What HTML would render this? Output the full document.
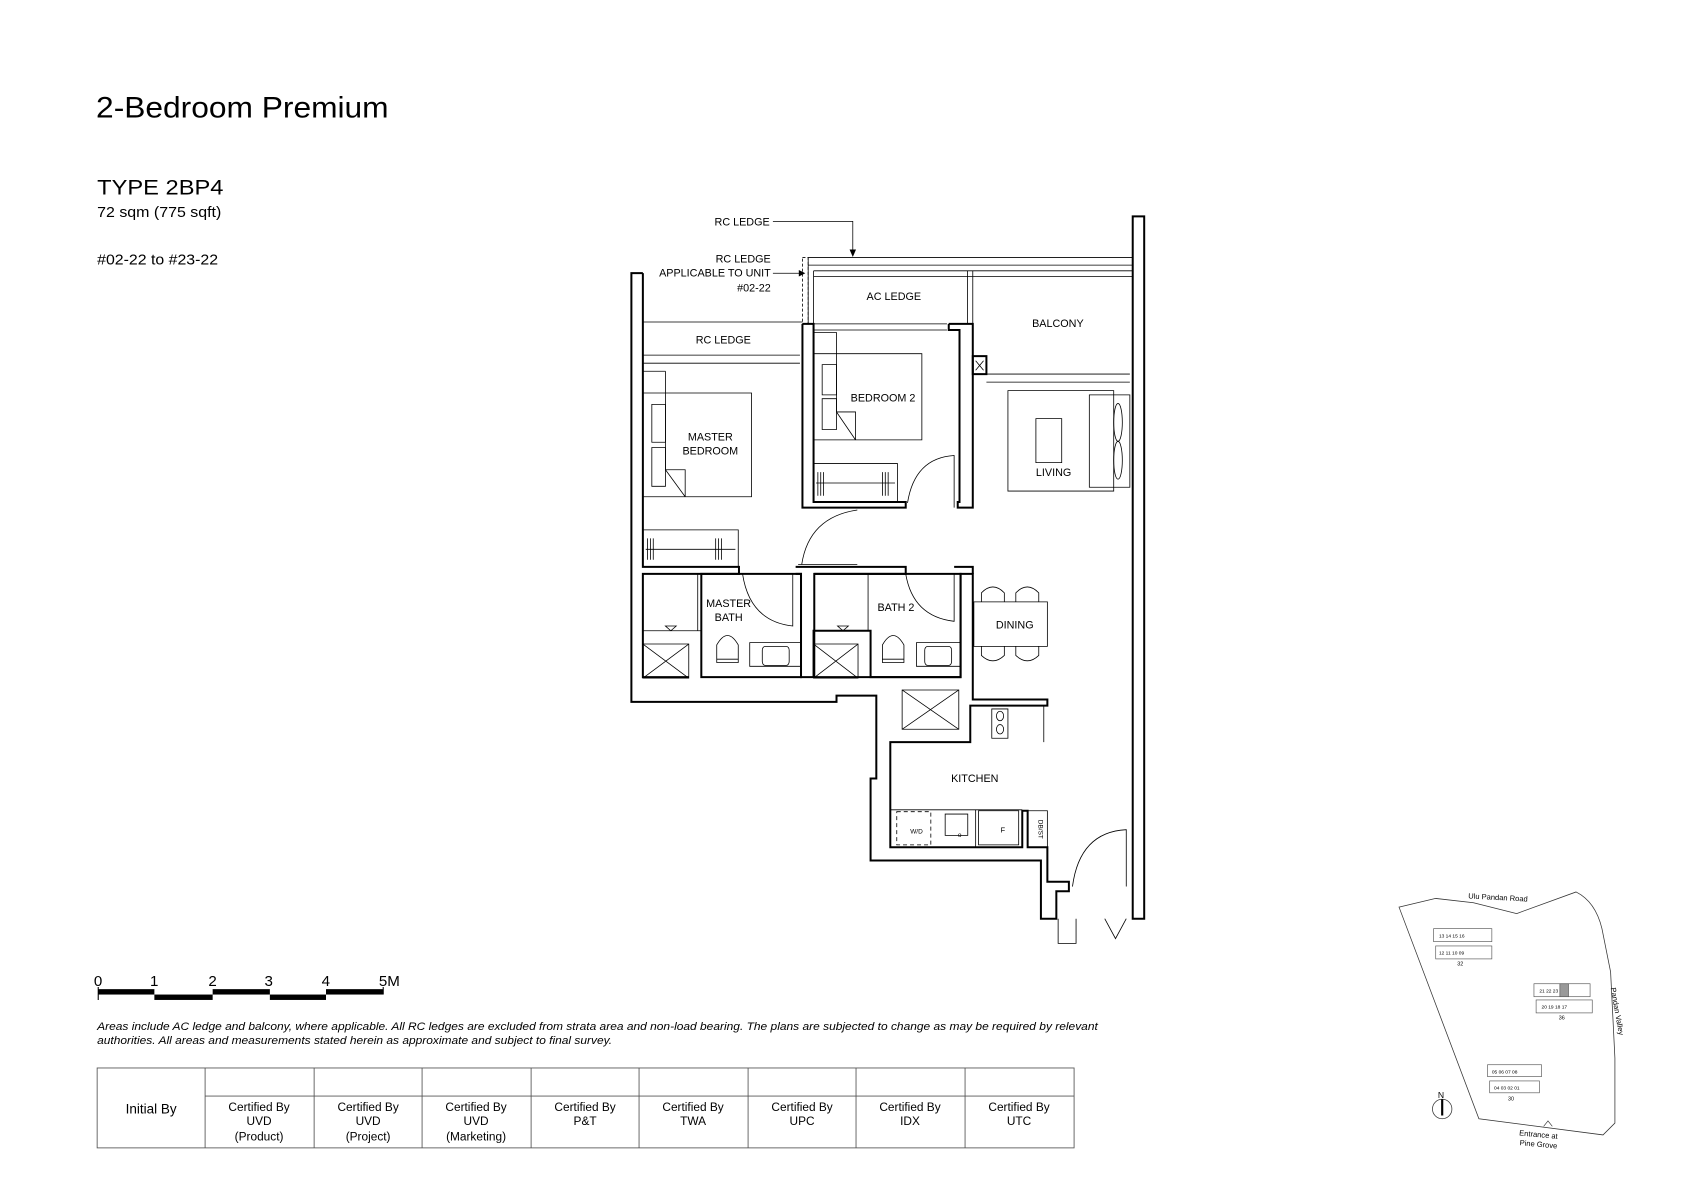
<!DOCTYPE html>
<html><head><meta charset="utf-8"><style>
html,body{margin:0;padding:0;background:#fff;}
svg{display:block;}
text{font-family:"Liberation Sans",Arial,sans-serif;fill:#000;}
.w{fill:none;stroke:#000;stroke-width:2;}
.t{fill:none;stroke:#000;stroke-width:0.8;}
</style></head><body>
<svg width="1684" height="1190" viewBox="0 0 1560 1102" preserveAspectRatio="none" xmlns="http://www.w3.org/2000/svg">
<text x="89" y="109" font-size="27" textLength="271" lengthAdjust="spacingAndGlyphs">2-Bedroom Premium</text>
<text x="90" y="180" font-size="20" textLength="117" lengthAdjust="spacingAndGlyphs">TYPE 2BP4</text>
<text x="90" y="201" font-size="14" textLength="115" lengthAdjust="spacingAndGlyphs">72 sqm (775 sqft)</text>
<text x="90" y="245" font-size="14" textLength="112" lengthAdjust="spacingAndGlyphs">#02-22 to #23-22</text>

<g transform="translate(555,185) scale(0.3322,0.4386)">
<polyline class="w" vector-effect="non-scaling-stroke" points="122,155 90,155 90,1060 662,1060 662,1047 773,1047 773,1222 757,1222 757,1395 1232,1395 1232,1518 1275,1518 1275,1460 1310,1460 1310,1440 1250,1440 1250,1367 1195,1367 1195,1290 1180,1290 1180,1367 812,1367 812,1145 1035,1145 1035,1068 1250,1068 1250,1055 1042,1055 1042,790 1008,790 1008,1008 757,1008 757,910 598,910 598,1008 600,1008 563,1008 563,790 548,790"/>
<polyline class="w" vector-effect="non-scaling-stroke" points="122,155 122,775 390,775 390,790 122,790 122,1008 250,1008"/>
<rect class="w" vector-effect="non-scaling-stroke" x="285" y="790" width="278" height="218"/>
<rect class="w" vector-effect="non-scaling-stroke" x="600" y="790" width="408" height="218"/>
<polyline class="w" vector-effect="non-scaling-stroke" points="548,775 855,775 855,790 600,790"/>
<polyline class="w" vector-effect="non-scaling-stroke" points="990,775 1042,775 1042,790"/>
<rect class="w" vector-effect="non-scaling-stroke" x="1488" y="35" width="32" height="1483"/>
<polyline class="w" vector-effect="non-scaling-stroke" points="567,262 598,262 598,638 855,638 855,650 567,650 567,262"/>
<polyline class="w" vector-effect="non-scaling-stroke" points="975,262 1042,262 1042,650 1000,650 1000,638 1005,638 1005,275 975,275 975,262"/>
<rect class="w" vector-effect="non-scaling-stroke" x="1042" y="330" width="38" height="38"/>
<path class="t" vector-effect="non-scaling-stroke" d="M1050,340 L1072,360 M1072,340 L1050,360"/>
<path class="t" vector-effect="non-scaling-stroke" d="M583,122 L1488,122 M583,138 L1488,138 M583,122 L583,262 M598,150 L1488,150 M598,162 L1488,162 M598,150 L598,262 M1027,150 L1027,262 M1042,150 L1042,262 M598,262 L970,262 M598,275 L970,275 M122,258 L567,258 M122,328 L560,328 M122,345 L560,345 M1080,368 L1480,368 M1080,385 L1480,385"/>
<rect x="567" y="122" width="16" height="140" fill="none" stroke="#000" stroke-width="0.8" stroke-dasharray="3,2" vector-effect="non-scaling-stroke"/>
<path class="t" vector-effect="non-scaling-stroke" d="M400,790 Q420,890 540,900 L540,790 M855,790 Q875,880 990,890 L990,790 M565,770 Q585,670 720,655 M860,640 Q880,545 990,540 L990,650 M1320,1450 Q1340,1335 1470,1330 L1470,1450 M1280,1518 L1280,1570 L1330,1570 L1330,1518 M1410,1518 L1440,1560 L1470,1518 M555,770 L720,770"/>
<g class="t">
<rect vector-effect="non-scaling-stroke" x="122" y="408" width="303" height="219"/>
<rect vector-effect="non-scaling-stroke" x="147" y="432" width="38" height="80"/>
<rect vector-effect="non-scaling-stroke" x="147" y="523" width="38" height="82"/>
<path vector-effect="non-scaling-stroke" d="M185,362 L185,570 L240,627 M185,570 L240,570 L240,627 M122,362 L185,362"/>
<rect vector-effect="non-scaling-stroke" x="122" y="697" width="266" height="78"/>
<path vector-effect="non-scaling-stroke" d="M130,738 L380,738 M135,715 V760 M143,715 V760 M151,715 V760 M325,715 V760 M333,715 V760 M341,715 V760"/>
<rect vector-effect="non-scaling-stroke" x="598" y="325" width="302" height="182"/>
<rect vector-effect="non-scaling-stroke" x="622" y="348" width="40" height="64"/>
<rect vector-effect="non-scaling-stroke" x="622" y="420" width="40" height="65"/>
<path vector-effect="non-scaling-stroke" d="M662,280 L662,448 L715,507 M662,448 L715,448 L715,507 M598,280 L662,280"/>
<rect vector-effect="non-scaling-stroke" x="598" y="557" width="234" height="81"/>
<path vector-effect="non-scaling-stroke" d="M605,598 L825,598 M610,575 V625 M618,575 V625 M626,575 V625 M790,575 V625 M798,575 V625 M806,575 V625"/>
<rect vector-effect="non-scaling-stroke" x="1140" y="403" width="295" height="212"/>
<rect vector-effect="non-scaling-stroke" x="1218" y="462" width="72" height="93"/>
<rect vector-effect="non-scaling-stroke" x="1367" y="412" width="113" height="195"/>
<ellipse vector-effect="non-scaling-stroke" cx="1447" cy="470" rx="12" ry="40"/>
<ellipse vector-effect="non-scaling-stroke" cx="1447" cy="550" rx="12" ry="40"/>
<rect vector-effect="non-scaling-stroke" x="1045" y="849" width="205" height="94"/>
<path vector-effect="non-scaling-stroke" d="M1066,849 V830 Q1098,805 1130,830 V849 M1162,849 V830 Q1194,805 1226,830 V849 M1066,943 V962 Q1098,985 1130,962 V943 M1162,943 V962 Q1194,985 1226,962 V943"/>
<rect vector-effect="non-scaling-stroke" x="122" y="938" width="128" height="72"/>
<path vector-effect="non-scaling-stroke" d="M122,938 L250,1010 M250,938 L122,1010"/>
<rect vector-effect="non-scaling-stroke" x="598" y="938" width="124" height="72"/>
<path vector-effect="non-scaling-stroke" d="M598,938 L722,1010 M722,938 L598,1010"/>
<rect vector-effect="non-scaling-stroke" x="845" y="1035" width="158" height="83"/>
<path vector-effect="non-scaling-stroke" d="M845,1035 L1003,1118 M1003,1035 L845,1118"/>
<path vector-effect="non-scaling-stroke" d="M275,790 V910 M122,910 H285 M750,790 V910 M185,900 L200,910 L215,900 Z M665,900 L680,910 L695,900 Z"/>
<path vector-effect="non-scaling-stroke" d="M328,977 V940 Q358,900 388,940 V977 Z M328,970 H388 M790,977 V940 Q820,900 850,940 V977 Z M790,970 H850"/>
<rect vector-effect="non-scaling-stroke" x="420" y="935" width="143" height="50"/>
<rect vector-effect="non-scaling-stroke" x="455" y="943" width="75" height="40" rx="8"/>
<rect vector-effect="non-scaling-stroke" x="885" y="935" width="123" height="50"/>
<rect vector-effect="non-scaling-stroke" x="908" y="943" width="75" height="40" rx="8"/>
<rect vector-effect="non-scaling-stroke" x="1095" y="1075" width="45" height="62"/>
<circle vector-effect="non-scaling-stroke" cx="1118" cy="1090" r="10"/>
<circle vector-effect="non-scaling-stroke" cx="1118" cy="1118" r="10"/>
<path vector-effect="non-scaling-stroke" d="M1240,1068 V1145 M812,1288 H1180 M1050,1288 V1367"/>
<rect vector-effect="non-scaling-stroke" x="830" y="1292" width="95" height="70" stroke-dasharray="4,3"/>
<rect vector-effect="non-scaling-stroke" x="965" y="1297" width="63" height="45"/>
<rect vector-effect="non-scaling-stroke" x="1058" y="1290" width="112" height="72"/>
<rect vector-effect="non-scaling-stroke" x="1195" y="1290" width="55" height="77"/>
</g>
</g>

<g font-size="10">
<text x="713" y="209" text-anchor="end">RC LEDGE</text>
<text x="714" y="243" text-anchor="end">RC LEDGE</text>
<text x="714" y="256" text-anchor="end">APPLICABLE TO UNIT</text>
<text x="714" y="270" text-anchor="end">#02-22</text>
<text x="828" y="278" text-anchor="middle">AC LEDGE</text>
<text x="980" y="303" text-anchor="middle">BALCONY</text>
<text x="670" y="318" text-anchor="middle">RC LEDGE</text>
<text x="818" y="372" text-anchor="middle">BEDROOM 2</text>
<text x="658" y="408" text-anchor="middle">MASTER</text>
<text x="658" y="421" text-anchor="middle">BEDROOM</text>
<text x="976" y="441" text-anchor="middle">LIVING</text>
<text x="675" y="562" text-anchor="middle">MASTER</text>
<text x="675" y="575" text-anchor="middle">BATH</text>
<text x="830" y="566" text-anchor="middle">BATH 2</text>
<text x="940" y="582" text-anchor="middle">DINING</text>
<text x="903" y="724" text-anchor="middle">KITCHEN</text>
</g>
<text x="849" y="772" font-size="6" text-anchor="middle">W/D</text>
<text x="929" y="771" font-size="7" text-anchor="middle">F</text>
<text x="889" y="775" font-size="6" text-anchor="middle">o</text>
<text transform="translate(962,768) rotate(90)" font-size="6" text-anchor="middle">DB/ST</text>
<path d="M716,205 H790 V235" fill="none" stroke="#000" stroke-width="0.7"/>
<path d="M787,231 L790,238 L793,231 Z" fill="#000"/>
<path d="M716,253 H744" fill="none" stroke="#000" stroke-width="0.7"/>
<path d="M740,250 L746,253 L740,256 Z" fill="#000"/>

<g font-size="14">
<text x="87" y="913">0</text><text x="139" y="913">1</text><text x="193" y="913">2</text><text x="245" y="913">3</text><text x="298" y="913">4</text><text x="351" y="913">5M</text>
</g>
<rect x="91" y="916" width="52" height="5" fill="#000"/>
<rect x="143" y="921" width="54" height="5" fill="#000"/>
<rect x="197" y="916" width="53" height="5" fill="#000"/>
<rect x="250" y="921" width="52" height="5" fill="#000"/>
<rect x="302" y="916" width="53" height="5" fill="#000"/>
<path d="M91,914 V926 M355,914 V921" stroke="#000" stroke-width="1"/>

<g font-size="10.3" font-style="italic">
<text x="90" y="954" textLength="927" lengthAdjust="spacingAndGlyphs">Areas include AC ledge and balcony, where applicable. All RC ledges are excluded from strata area and non-load bearing. The plans are subjected to change as may be required by relevant</text>
<text x="90" y="967" textLength="477" lengthAdjust="spacingAndGlyphs">authorities. All areas and measurements stated herein as approximate and subject to final survey.</text>
</g>

<g fill="none" stroke="#555" stroke-width="0.8">
<rect x="90" y="989" width="905" height="74"/>
<path d="M190,989 V1063 M291,989 V1063 M391,989 V1063 M492,989 V1063 M592,989 V1063 M693,989 V1063 M793,989 V1063 M894,989 V1063 M190,1015 H995"/>
</g>
<g font-size="11" text-anchor="middle">
<text x="140" y="1031" font-size="12.5">Initial By</text>
<text x="240" y="1029">Certified By</text><text x="240" y="1042">UVD</text><text x="240" y="1056">(Product)</text>
<text x="341" y="1029">Certified By</text><text x="341" y="1042">UVD</text><text x="341" y="1056">(Project)</text>
<text x="441" y="1029">Certified By</text><text x="441" y="1042">UVD</text><text x="441" y="1056">(Marketing)</text>
<text x="542" y="1029">Certified By</text><text x="542" y="1042">P&amp;T</text>
<text x="642" y="1029">Certified By</text><text x="642" y="1042">TWA</text>
<text x="743" y="1029">Certified By</text><text x="743" y="1042">UPC</text>
<text x="843" y="1029">Certified By</text><text x="843" y="1042">IDX</text>
<text x="944" y="1029">Certified By</text><text x="944" y="1042">UTC</text>
</g>

<path d="M1296,840 L1330,832 L1365,836 L1405,846 L1460,826 Q1478,835 1484,860 L1492,900 L1496,980 L1496,1040 L1485,1051 L1370,1036 Z" fill="none" stroke="#333" stroke-width="0.7"/>
<text x="1360" y="832" font-size="7" fill="#333" transform="rotate(3,1360,832)">Ulu Pandan Road</text>
<text x="1492" y="915" font-size="7" fill="#333" transform="rotate(80,1492,915)">Pandan Valley</text>
<text x="1425" y="1053" font-size="7" fill="#333" text-anchor="middle" transform="rotate(5,1425,1053)">Entrance at</text>
<text x="1425" y="1062" font-size="7" fill="#333" text-anchor="middle" transform="rotate(5,1425,1062)">Pine Grove</text>
<path d="M1430,1043 L1434,1038 L1438,1043" fill="none" stroke="#333" stroke-width="0.6"/>
<g fill="#fff" stroke="#555" stroke-width="0.6">
<rect x="1328" y="860" width="54" height="12"/><rect x="1330" y="876" width="52" height="12"/>
<rect x="1421" y="911" width="52" height="12"/><rect x="1423" y="926" width="52" height="12"/>
<rect x="1378" y="986" width="50" height="11"/><rect x="1380" y="1001" width="46" height="11"/>
<rect x="1445" y="911" width="8" height="12" fill="#999"/>
</g>
<g font-size="4.5" fill="#333">
<text x="1333" y="868">13 14 15 16</text><text x="1333" y="884">12 11 10 09</text>
<text x="1426" y="919">21 22 23</text><text x="1428" y="934">20 19 18 17</text>
<text x="1382" y="994">05 06 07 08</text><text x="1384" y="1009">04 03 02 01</text>
</g>
<text x="1350" y="894" font-size="5">32</text><text x="1444" y="944" font-size="5">36</text><text x="1397" y="1019" font-size="5">30</text>
<circle cx="1336" cy="1027" r="9" fill="none" stroke="#333" stroke-width="0.7"/>
<path d="M1336,1018 V1033" stroke="#000" stroke-width="2"/>
<text x="1332" y="1017" font-size="8">N</text>
</svg>
</body></html>
